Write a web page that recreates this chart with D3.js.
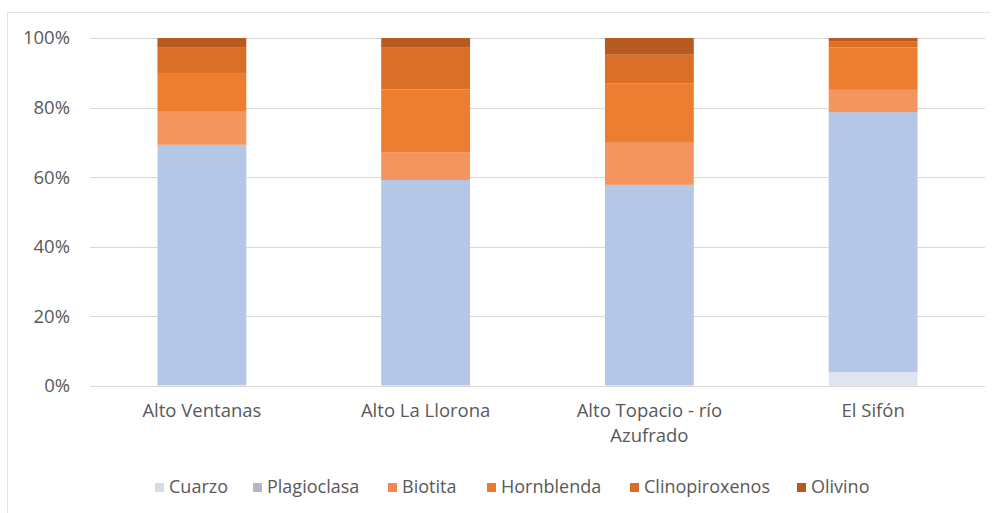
<!DOCTYPE html>
<html lang="es">
<head>
<meta charset="UTF-8">
<title>Minerales</title>
<script src="https://d3js.org/d3.v7.min.js"></script>
<style>
  body { margin: 0; background: #fff; font-family: 'Open Sans', sans-serif; }
  svg { display: block; }
  .tick text { fill: #595959; font-size: 18.5px; font-family: 'Open Sans', sans-serif; }
  .legend text { fill: #595959; font-size: 18px; }
</style>
</head>
<body>
<svg id="chart"></svg>
<script>
// data (percent of each sample)
const sites = ["Alto Ventanas", "Alto La Llorona", "Alto Topacio - río Azufrado", "El Sifón"];
const minerals = ["Cuarzo", "Plagioclasa", "Biotita", "Hornblenda", "Clinopiroxenos", "Olivino"];
const cuarzo         = [0.3, 0.2, 0.2, 4.0];
const plagioclasa    = [69.0, 59.0, 57.6, 74.7];
const biotita        = [9.5, 8.0, 12.1, 6.4];
const hornblenda     = [10.9, 18.0, 17.1, 12.2];
const clinopiroxenos = [7.5, 12.0, 8.2, 1.8];
const olivino        = [2.8, 2.8, 4.8, 0.9];
const yTicks = [0, 0.2, 0.4, 0.6, 0.8, 1];
const colors = ["#dfe5f1", "#b4c7e7", "#f4955f", "#ed7d31", "#da7028", "#b85a1f"];
const legendColors = ["#d9dbe3", "#b3b5c9", "#f08a4f", "#ec7a2c", "#d96f26", "#b9581d"];

const W = 996, H = 513;
const margin = { top: 38, right: 11, bottom: 127, left: 90 };
const width = W - margin.left - margin.right;
const height = H - margin.top - margin.bottom;

const svg = d3.select("#chart").attr("width", W).attr("height", H);

// chart frame (top and left edges are visible)
svg.append("line").attr("x1", 7.5).attr("x2", 990).attr("y1", 12.5).attr("y2", 12.5)
  .attr("stroke", "#e3e3e3");
svg.append("line").attr("x1", 7.5).attr("x2", 7.5).attr("y1", 12.5).attr("y2", 513)
  .attr("stroke", "#e3e3e3");

const g = svg.append("g").attr("transform", `translate(${margin.left},${margin.top})`);

const rows = sites.map((s, i) => {
  const r = { site: s };
  const vals = [cuarzo[i], plagioclasa[i], biotita[i], hornblenda[i], clinopiroxenos[i], olivino[i]];
  const tot = d3.sum(vals);
  minerals.forEach((m, k) => r[m] = vals[k] / tot);
  return r;
});

const x = d3.scaleBand().domain(sites).range([0, width]).paddingInner(0.603).paddingOuter(0.3015);
const y = d3.scaleLinear().domain([0, 1]).range([height, 0]);
const color = d3.scaleOrdinal().domain(minerals).range(colors);

// gridlines
g.append("g")
  .selectAll("line").data(yTicks).join("line")
  .attr("x1", 0).attr("x2", width)
  .attr("y1", d => Math.round(y(d)) + 0.5).attr("y2", d => Math.round(y(d)) + 0.5)
  .attr("stroke", "#d9d9d9");

const yAxis = g.append("g")
  .call(d3.axisLeft(y).tickValues(yTicks).tickFormat(d3.format(".0%")).tickSize(0).tickPadding(20));
yAxis.select(".domain").remove();

// stacked bars
const series = d3.stack().keys(minerals)(rows);
g.append("g").selectAll("g").data(series).join("g")
  .attr("fill", d => color(d.key))
  .selectAll("rect").data(d => d).join("rect")
  .attr("x", d => x(d.data.site))
  .attr("width", x.bandwidth())
  .attr("y", d => y(d[1]))
  .attr("height", d => y(d[0]) - y(d[1]));

// category axis
const xAxis = g.append("g").attr("transform", `translate(0,${height})`)
  .call(d3.axisBottom(x).tickSize(0).tickPadding(18));
xAxis.select(".domain").remove();
xAxis.selectAll("text").each(function (d) {
  const t = d3.select(this);
  if (d === "Alto Topacio - río Azufrado") {
    t.text(null);
    t.append("tspan").attr("x", 0).attr("dy", "0.71em").text("Alto Topacio - río");
    t.append("tspan").attr("x", 0).attr("dy", "1.35em").text("Azufrado");
  }
});

// legend
const legendX = [155, 253, 388, 487, 630, 797];
const legend = svg.append("g").attr("class", "legend");
minerals.forEach((m, i) => {
  const it = legend.append("g").attr("transform", `translate(${legendX[i]},487)`);
  it.append("rect").attr("x", 0).attr("y", -4).attr("width", 9).attr("height", 9)
    .attr("fill", legendColors[i]);
  it.append("text").attr("x", 14).attr("y", 0).attr("dy", "0.35em").text(m);
});
</script>
</body>
</html>
